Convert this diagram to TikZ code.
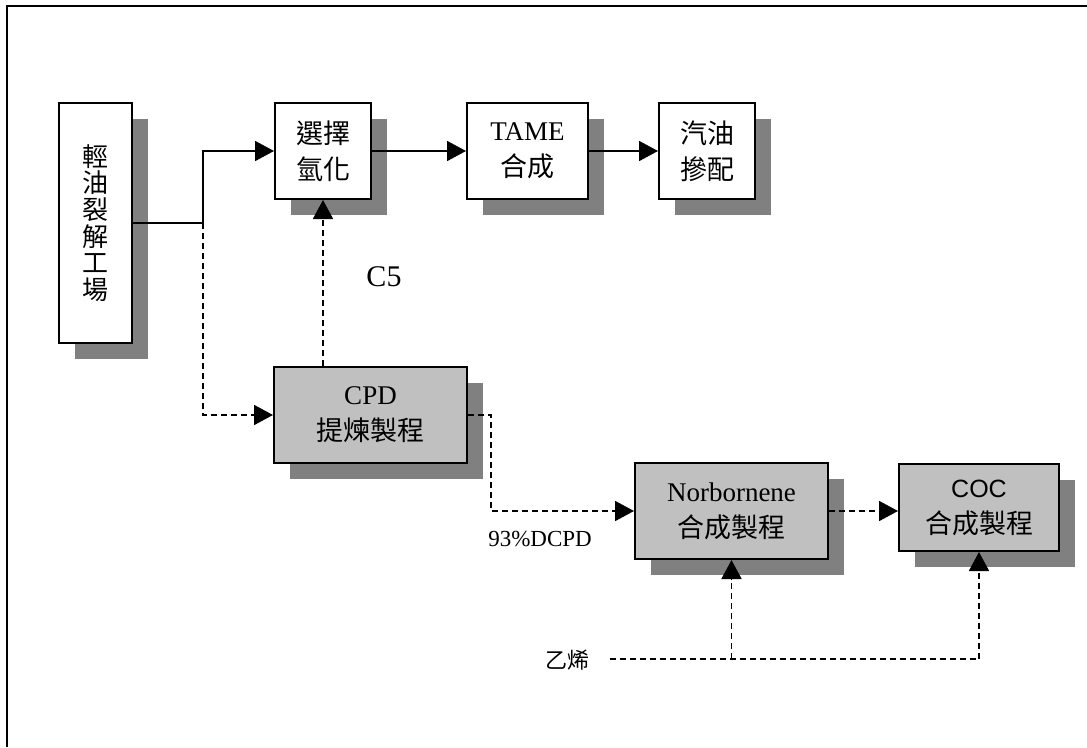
\documentclass[tikz,border=0pt]{standalone}
\usepackage{fontspec}
\setmainfont{Liberation Serif}
\setsansfont{Liberation Sans}
\newfontfamily\cjk{Noto Sans CJK TC}
\usepackage{xcolor}
\usepackage{tikz}
\usetikzlibrary{arrows.meta,shadows}
\definecolor{boxgray}{HTML}{C0C0C0}
\definecolor{shadegray}{HTML}{808080}

\begin{document}
\begin{tikzpicture}[x=1pt,y=-1pt,
    unit/.style={draw, line width=2pt, fill=white, inner sep=0pt, align=center,
      general shadow={fill=shadegray, shadow xshift=16pt, shadow yshift=-16pt},
      font=\fontsize{27}{36}\selectfont},
    grayunit/.style={unit, fill=boxgray},
    flow/.style={line width=1.8pt, -{Triangle[length=19pt,width=20pt]}},
    dflow/.style={flow, dash pattern=on 6pt off 4pt},
    dline/.style={line width=1.8pt, dash pattern=on 6pt off 4pt},
    tag/.style={inner sep=0pt}]
    \useasboundingbox (0,0) rectangle (1087,747);
    % Frame (top and left edges only)
    \draw[line width=2.5pt] (7,747) -- (7,6) -- (1087,6);
    % Cracker
    \node[unit, minimum width=73pt, minimum height=240pt,
      font=\cjk\fontsize{26}{26.6}\selectfont] (cracker) at (95.5,223)
      {輕\\油\\裂\\解\\工\\場};
    % Upper line
    \node[unit, minimum width=96pt, minimum height=96pt] (hydro) at (323,151)
      {{\cjk 選擇}\\{\cjk 氫化}};
    \node[unit, minimum width=121pt, minimum height=96pt] (tame) at (527.5,151)
      {TAME\\{\cjk 合成}};
    \node[unit, minimum width=96pt, minimum height=96pt] (blend) at (707,151)
      {{\cjk 汽油}\\{\cjk 摻配}};
    % Lower line
    \node[grayunit, minimum width=193pt, minimum height=96pt] (cpd) at (370.5,415)
      {CPD\\{\cjk 提煉製程}};
    \node[grayunit, minimum width=193pt, minimum height=96pt] (norb) at (731.5,511)
      {Norbornene\\{\cjk 合成製程}};
    \node[grayunit, minimum width=160pt, minimum height=87pt] (coc) at (979,507.5)
      {{\sffamily\fontsize{25}{36}\selectfont COC}\\{\cjk 合成製程}};
    % Labels
    \node[tag, font=\fontsize{30}{36}\selectfont] (c5) at (384,277) {C5};
    \node[tag, font=\fontsize{23}{28}\selectfont] (dcpd) at (540,539) {93\%DCPD};
    \node[tag, font=\cjk\fontsize{22}{28}\selectfont] (ethylene) at (567,660) {乙烯};
    % Junctions
    \coordinate (split) at (203,223);
    \coordinate (drop) at (491,511);
    \coordinate (ethstart) at (610,659);
    \coordinate (ethend) at (979,659);
    % Solid flows
    \draw[line width=1.8pt] (cracker.east) -- (split);
    \draw[flow] (split) |- (hydro.west);
    \draw[flow] (hydro.east) -- (tame.west);
    \draw[flow] (tame.east) -- (blend.west);
    % Dashed flows
    \draw[dflow] (split) |- (cpd.west);
    \draw[dflow] (cpd.north -| hydro.south) -- (hydro.south);
    \draw[dflow] (cpd.east) -| (drop) -- (norb.west);
    \draw[dflow] (norb.east) -- (norb.east -| coc.west);
    \draw[dline] (ethstart) -- (ethend);
    \draw[dflow] (ethend) -- (coc.south);
    \draw[dflow] (norb.south |- ethstart) -- (norb.south);
  \end{tikzpicture}
\end{document}
